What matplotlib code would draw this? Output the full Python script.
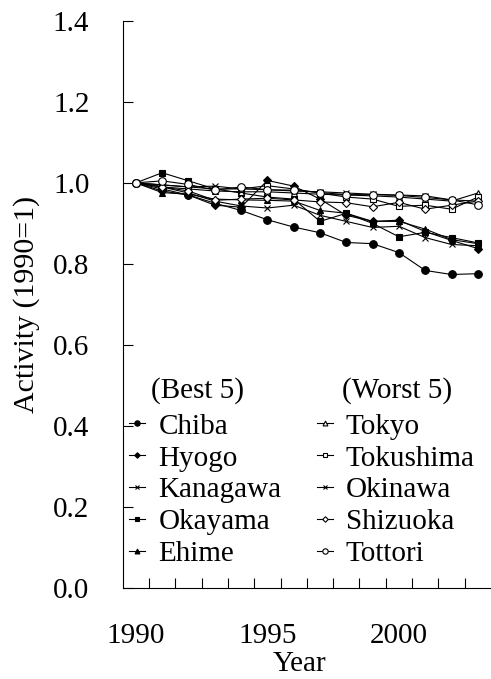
import matplotlib
matplotlib.use("Agg")
import matplotlib.pyplot as plt
import numpy as np

plt.rcParams["font.family"] = ["Liberation Serif", "DejaVu Serif"]

years = list(range(1990, 2004))

# Best 5 prefectures
chiba     = [1.000, 0.985, 0.970, 0.950, 0.932, 0.909, 0.891, 0.877, 0.853, 0.850, 0.828, 0.784, 0.774, 0.776]
hyogo     = [1.000, 0.980, 0.970, 0.945, 0.940, 1.006, 0.992, 0.960, 0.920, 0.905, 0.908, 0.880, 0.858, 0.838]
kanagawa  = [1.000, 0.990, 0.975, 0.955, 0.943, 0.938, 0.945, 0.920, 0.905, 0.890, 0.893, 0.865, 0.848, 0.845]
okayama   = [1.000, 1.025, 1.005, 0.985, 0.975, 0.965, 0.960, 0.905, 0.925, 0.900, 0.867, 0.878, 0.865, 0.852]
ehime     = [1.000, 0.976, 0.972, 0.960, 0.958, 0.957, 0.955, 0.932, 0.925, 0.905, 0.905, 0.886, 0.860, 0.850]

# Worst 5 prefectures
tokyo     = [1.000, 0.990, 0.985, 0.980, 0.978, 0.978, 0.975, 0.972, 0.970, 0.968, 0.965, 0.960, 0.955, 0.975]
tokushima = [1.000, 0.995, 0.990, 0.985, 0.985, 0.993, 0.985, 0.975, 0.965, 0.960, 0.942, 0.945, 0.935, 0.965]
okinawa   = [1.000, 0.995, 0.990, 0.992, 0.985, 0.983, 0.980, 0.978, 0.975, 0.972, 0.970, 0.968, 0.958, 0.955]
shizuoka  = [1.000, 0.990, 0.980, 0.957, 0.960, 0.962, 0.958, 0.953, 0.951, 0.941, 0.952, 0.935, 0.945, 0.955]
tottori   = [1.000, 1.005, 0.996, 0.982, 0.990, 0.983, 0.982, 0.976, 0.971, 0.971, 0.969, 0.964, 0.958, 0.946]

best_names = ["Chiba", "Hyogo", "Kanagawa", "Okayama", "Ehime"]
best_series = [chiba, hyogo, kanagawa, okayama, ehime]
worst_names = ["Tokyo", "Tokushima", "Okinawa", "Shizuoka", "Tottori"]
worst_series = [tokyo, tokushima, okinawa, shizuoka, tottori]

best_markers = ["o", "D", "x", "s", "^"]
worst_markers = ["^", "s", "x", "D", "o"]
msizes = {"o": 5.5, "D": 4.0, "x": 5.0, "s": 4.5, "^": 5.0}

fig = plt.figure(figsize=(4.91, 6.79), dpi=100)
ax = fig.add_axes([0.2499, 0.1336, 0.7501, 0.8359])

handles_best = []
for name, vals, m in zip(best_names, best_series, best_markers):
    h, = ax.plot(years, vals, color="black", lw=0.8, marker=m, ms=msizes[m],
                 mfc="black", mec="black", mew=0.8, label=name, zorder=3)
    handles_best.append(h)

handles_worst = []
for name, vals, m in zip(worst_names, worst_series, worst_markers):
    h, = ax.plot(years, vals, color="black", lw=0.8, marker=m, ms=msizes[m],
                 mfc="white", mec="black", mew=0.8, label=name, zorder=4)
    handles_worst.append(h)

ax.set_xlim(1989.5, 2003.5)
ax.set_ylim(0.0, 1.4)

ax.spines["top"].set_visible(False)
ax.spines["right"].set_visible(False)
for s in ("left", "bottom"):
    ax.spines[s].set_linewidth(0.8)

ax.set_yticks(np.arange(0, 1.41, 0.2))
ax.set_yticklabels([f"{v:.1f}" for v in np.arange(0, 1.41, 0.2)])
ax.tick_params(axis="y", direction="in", length=7.5, width=0.8, pad=24, labelsize=21)

ax.set_xticks([1990, 1995, 2000])
ax.set_xticklabels(["1990", "1995", "2000"])
ax.set_xticks(np.arange(1990.5, 2003, 1.0), minor=True)
ax.tick_params(axis="x", which="major", length=0, pad=25, labelsize=21)
ax.tick_params(axis="x", which="minor", direction="in", length=7, width=0.8)

ax.set_xlabel("Year", fontsize=21, labelpad=1.5, x=0.481)
ax.set_ylabel("Activity (1990=1)", fontsize=21.5, labelpad=9)

ax.text(1990.58, 0.489, "(Best 5)", fontsize=21, ha="left", va="center")
ax.text(1997.83, 0.489, "(Worst 5)", fontsize=21, ha="left", va="center")

leg = ax.legend(handles_best + handles_worst, best_names + worst_names,
                ncol=2, frameon=False, fontsize=21,
                loc="upper left", bbox_to_anchor=(1989.75, 0.432),
                bbox_transform=ax.transData,
                handlelength=0.55, handletextpad=0.45, columnspacing=1.2,
                labelspacing=0.19, borderpad=0, borderaxespad=0,
                markerscale=0.7)

fig.savefig("out.png", dpi=100)
